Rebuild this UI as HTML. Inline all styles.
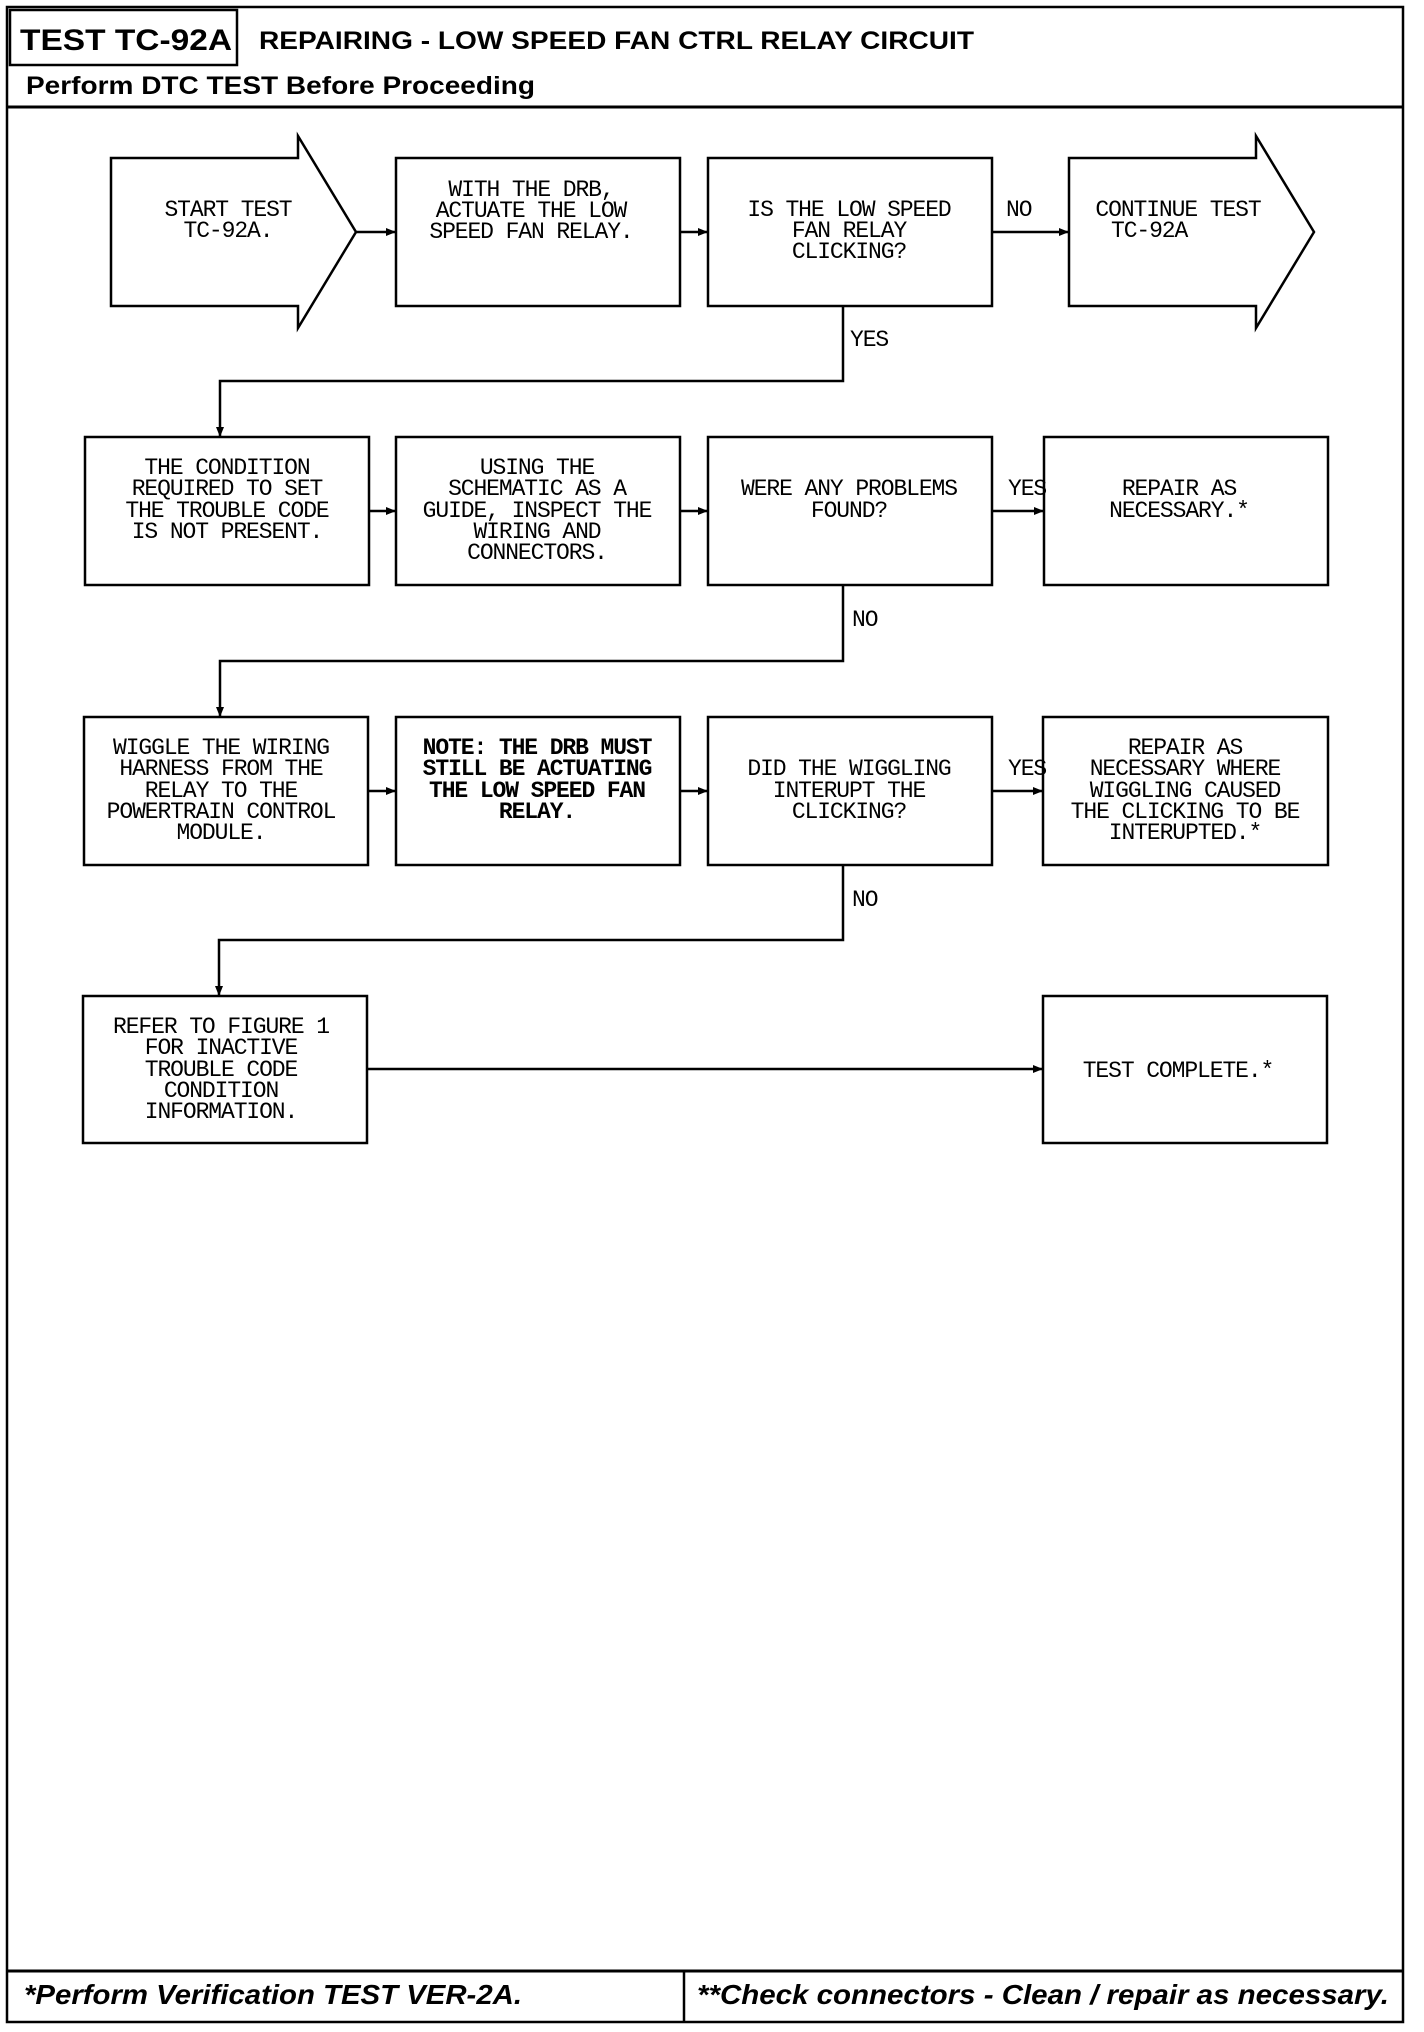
<!DOCTYPE html>
<html><head><meta charset="utf-8"><style>
html,body{margin:0;padding:0;background:#fff;}
svg{display:block;}
.t{font-family:"Liberation Mono",monospace;font-size:23px;letter-spacing:-1.1px;fill:#000;text-anchor:middle;}
.b{font-weight:bold;}
.l{text-anchor:start;}
.h{font-family:"Liberation Sans",sans-serif;font-weight:bold;fill:#000;}
</style></head><body>
<svg width="1424" height="2032" viewBox="0 0 1424 2032" xmlns="http://www.w3.org/2000/svg">
<defs>
<marker id="a" markerWidth="10" markerHeight="10" refX="9" refY="5" orient="auto" markerUnits="userSpaceOnUse">
<path d="M0,1 L10,5 L0,9 Z" fill="#000"/></marker>
</defs>
<g fill="none" stroke="#000" stroke-width="2.5">
<rect x="7" y="7" width="1396" height="2015"/>
<rect x="10" y="10" width="227" height="55"/>
<line x1="7" y1="107" x2="1403" y2="107" stroke-width="3"/>
<line x1="7" y1="1971" x2="1403" y2="1971" stroke-width="3"/>
<line x1="684" y1="1971" x2="684" y2="2022"/>
<!-- row1 -->
<path d="M111,158 H298 V136 L356,232 L298,328 V306 H111 Z"/>
<rect x="396" y="158" width="284" height="148"/>
<rect x="708" y="158" width="284" height="148"/>
<path d="M1069,158 H1256 V136 L1314,232 L1256,328 V306 H1069 Z"/>
<!-- row2 -->
<rect x="85" y="437" width="284" height="148"/>
<rect x="396" y="437" width="284" height="148"/>
<rect x="708" y="437" width="284" height="148"/>
<rect x="1044" y="437" width="284" height="148"/>
<!-- row3 -->
<rect x="84" y="717" width="284" height="148"/>
<rect x="396" y="717" width="284" height="148"/>
<rect x="708" y="717" width="284" height="148"/>
<rect x="1043" y="717" width="285" height="148"/>
<!-- row4 -->
<rect x="83" y="996" width="284" height="147"/>
<rect x="1043" y="996" width="284" height="147"/>
</g>
<g fill="none" stroke="#000" stroke-width="2.5" marker-end="url(#a)">
<line x1="356" y1="232" x2="395" y2="232"/>
<line x1="680" y1="232" x2="707" y2="232"/>
<line x1="992" y1="232" x2="1068" y2="232"/>
<path d="M843,306 V381 H220 V436"/>
<line x1="369" y1="511" x2="395" y2="511"/>
<line x1="680" y1="511" x2="707" y2="511"/>
<line x1="992" y1="511" x2="1043" y2="511"/>
<path d="M843,585 V661 H220 V716"/>
<line x1="368" y1="791" x2="395" y2="791"/>
<line x1="680" y1="791" x2="707" y2="791"/>
<line x1="992" y1="791" x2="1042" y2="791"/>
<path d="M843,865 V940 H219 V995"/>
<line x1="367" y1="1069" x2="1042" y2="1069"/>
</g>
<!-- header -->
<text class="h" x="20" y="50" font-size="30" textLength="212" lengthAdjust="spacingAndGlyphs">TEST TC-92A</text>
<text class="h" x="259" y="49" font-size="25" textLength="715" lengthAdjust="spacingAndGlyphs">REPAIRING - LOW SPEED FAN CTRL RELAY CIRCUIT</text>
<text class="h" x="26" y="94" font-size="25" textLength="509" lengthAdjust="spacingAndGlyphs">Perform DTC TEST Before Proceeding</text>
<text class="h" x="24" y="2004" font-size="28" font-style="italic" textLength="498" lengthAdjust="spacingAndGlyphs">*Perform Verification TEST VER-2A.</text>
<text class="h" x="697" y="2004" font-size="28" font-style="italic" textLength="692" lengthAdjust="spacingAndGlyphs">**Check connectors - Clean / repair as necessary.</text>
<!-- row1 text -->
<text class="t" x="228" y="216">START TEST</text>
<text class="t" x="228" y="237">TC-92A.</text>
<text class="t" x="531" y="196">WITH THE DRB,</text>
<text class="t" x="531" y="217">ACTUATE THE LOW</text>
<text class="t" x="531" y="238">SPEED FAN RELAY.</text>
<text class="t" x="849" y="216">IS THE LOW SPEED</text>
<text class="t" x="849" y="237">FAN RELAY</text>
<text class="t" x="849" y="258">CLICKING?</text>
<text class="t" x="1178" y="216">CONTINUE TEST</text>
<text class="t l" x="1111" y="237">TC-92A</text>
<text class="t l" x="1006" y="216">NO</text>
<text class="t l" x="850" y="346">YES</text>
<!-- row2 -->
<text class="t" x="227" y="474">THE CONDITION</text>
<text class="t" x="227" y="495">REQUIRED TO SET</text>
<text class="t" x="227" y="517">THE TROUBLE CODE</text>
<text class="t" x="227" y="538">IS NOT PRESENT.</text>
<text class="t" x="537" y="474">USING THE</text>
<text class="t" x="537" y="495">SCHEMATIC AS A</text>
<text class="t" x="537" y="517">GUIDE, INSPECT THE</text>
<text class="t" x="537" y="538">WIRING AND</text>
<text class="t" x="537" y="559">CONNECTORS.</text>
<text class="t" x="849" y="495">WERE ANY PROBLEMS</text>
<text class="t" x="849" y="517">FOUND?</text>
<text class="t" x="1179" y="495">REPAIR AS</text>
<text class="t" x="1179" y="517">NECESSARY.*</text>
<text class="t l" x="1008" y="495">YES</text>
<text class="t l" x="852" y="626">NO</text>
<!-- row3 -->
<text class="t" x="221" y="754">WIGGLE THE WIRING</text>
<text class="t" x="221" y="775">HARNESS FROM THE</text>
<text class="t" x="221" y="797">RELAY TO THE</text>
<text class="t" x="221" y="818">POWERTRAIN CONTROL</text>
<text class="t" x="221" y="839">MODULE.</text>
<text class="t b" x="537" y="754">NOTE: THE DRB MUST</text>
<text class="t b" x="537" y="775">STILL BE ACTUATING</text>
<text class="t b" x="537" y="797">THE LOW SPEED FAN</text>
<text class="t b" x="537" y="818">RELAY.</text>
<text class="t" x="849" y="775">DID THE WIGGLING</text>
<text class="t" x="849" y="797">INTERUPT THE</text>
<text class="t" x="849" y="818">CLICKING?</text>
<text class="t" x="1185" y="754">REPAIR AS</text>
<text class="t" x="1185" y="775">NECESSARY WHERE</text>
<text class="t" x="1185" y="797">WIGGLING CAUSED</text>
<text class="t" x="1185" y="818">THE CLICKING TO BE</text>
<text class="t" x="1185" y="839">INTERUPTED.*</text>
<text class="t l" x="1008" y="775">YES</text>
<text class="t l" x="852" y="906">NO</text>
<!-- row4 -->
<text class="t" x="221" y="1033">REFER TO FIGURE 1</text>
<text class="t" x="221" y="1054">FOR INACTIVE</text>
<text class="t" x="221" y="1076">TROUBLE CODE</text>
<text class="t" x="221" y="1097">CONDITION</text>
<text class="t" x="221" y="1118">INFORMATION.</text>
<text class="t" x="1178" y="1077">TEST COMPLETE.*</text>
</svg>
</body></html>
